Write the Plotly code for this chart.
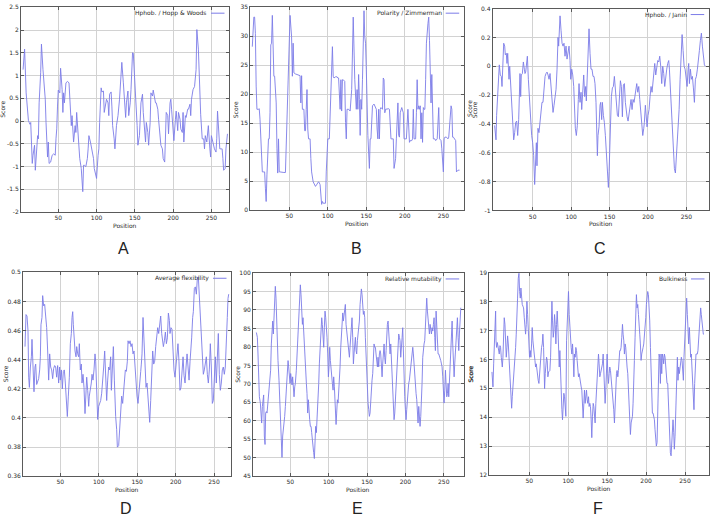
import plotly.graph_objects as go

W, H = 710, 519

# ---------------- DATA ----------------
pos_a = [4,6,8,10,11,12,13,14,16,17,19,20,21,23,24,25,27,28,30,32,33,34,35,36,37,38,40,42,44,46,47,48,49,50,52,53,55,56,57,58,60,62,64,65,66,67,68,69,70,72,73,74,76,77,78,80,82,83,84,86,88,89,90,92,94,96,97,100,102,103,104,106,107,109,110,112,113,115,116,117,119,120,121,123,124,126,128,130,131,133,135,137,138,139,141,142,144,145,147,148,150,151,153,154,156,158,160,161,163,164,165,167,168,170,171,173,174,175,177,178,180,181,183,184,186,187,189,190,191,193,194,196,197,198,200,201,203,204,206,207,209,210,212,213,214,216,217,219,220,222,223,224,226,228,230,231,233,235,236,238,240,241,242,244,245,246,248,249,250,252,254,256,257,258,260,261,263,264,265,266,268,269,271]
score_a = [1.13,1.58,0.62,0.04,0.01,-0.03,-0.07,-0.03,-0.93,-0.75,-0.53,-1.08,-0.75,-0.32,-0.39,0.40,1.06,1.69,1.13,0.76,0.48,-0.03,-0.53,-0.79,-0.46,-0.93,-0.90,-0.75,-0.72,-0.75,-0.39,-0.17,0.33,0.68,0.62,1.16,0.69,0.19,0.62,0.40,0.84,0.87,0.84,0.48,0.12,-0.10,0.12,-0.21,-0.46,-0.10,-0.25,0.19,-0.32,-0.75,-0.82,-1.04,-1.55,-0.97,-0.97,-1.00,-0.82,-0.61,-0.32,-0.46,-0.61,-0.82,-1.04,-1.26,-0.75,-0.61,-0.03,0.73,0.64,0.66,0.19,0.44,0.48,0.40,0.12,0.59,0.64,0.33,-0.10,-0.39,-0.61,-0.10,0.12,0.48,0.69,1.29,0.84,0.40,0.08,0.40,0.66,0.12,0.40,0.69,1.50,1.49,0.95,0.48,-0.10,-0.53,-0.32,0.40,0.59,0.19,-0.25,-0.46,-0.03,-0.25,-0.53,-0.03,0.62,0.55,0.68,0.55,0.40,0.40,0.26,0.04,-0.32,-0.53,-0.61,-0.82,-0.90,-0.53,0.19,0.12,-0.28,0.40,0.48,0.26,-0.10,-0.43,0.04,0.22,-0.21,0.19,0.04,-0.17,-0.25,0.19,-0.46,0.12,0.08,0.26,0.26,0.37,0.12,0.48,0.69,0.76,1.13,2.01,1.58,0.55,0.15,-0.39,-0.39,-0.61,-0.32,-0.46,-0.14,-0.10,-0.61,-0.79,-0.32,-0.46,-0.61,-0.68,-0.39,0.22,-0.32,-0.61,-0.61,-0.61,-0.82,-1.08,-1.04,-0.61,-0.28]

pos_b = [2,4,5,6,7,8,10,11,12,14,15,17,18,19,20,21,22,23,24,25,26,27,28,29,30,31,33,34,35,36,37,38,41,43,45,46,47,48,49,50,51,53,54,55,56,58,60,62,64,65,66,67,68,69,70,71,72,73,74,75,76,77,78,79,81,83,84,86,88,89,90,92,93,94,96,97,98,99,100,102,103,105,106,107,108,110,112,113,114,116,117,118,119,120,121,122,123,124,125,127,129,131,133,134,135,137,138,139,140,141,142,143,144,145,146,147,148,149,150,151,152,154,155,156,157,158,160,162,163,164,165,166,167,168,169,171,172,173,174,175,177,179,180,182,183,185,186,188,189,190,191,192,193,194,195,196,198,199,200,201,202,204,205,206,207,209,210,211,212,214,215,216,217,218,219,220,221,222,223,224,225,226,227,228,230,231,232,233,234,235,236,237,239,240,242,243,244,245,246,247,248,249,250,251,252,254,256,257,259,260,261,262,263,265,266,267,269,271]
score_b = [28.2,33.3,33.3,30.5,21.4,17.4,17.4,17.5,15.7,8.3,6.6,6.6,6.6,3.8,1.5,6.1,10.6,12.3,12.3,16.8,28.5,28.8,33.6,28.8,23.1,23.1,18.5,10.6,6.4,12.3,6.6,6.6,6.5,6.5,6.5,11.7,12.9,18.5,27.1,28.2,33.6,29.9,23.1,28.8,23.7,23.5,23.4,23.4,23.2,18.5,23.2,17.4,17.4,17.4,13.7,13.7,17.4,20.8,14.0,12.3,12.3,12.3,8.9,6.6,4.9,4.4,4.1,4.5,4.9,4.7,4.4,1.0,1.5,1.2,1.2,1.2,6.6,10.0,12.3,12.3,16.8,23.1,28.2,23.1,22.8,23.0,23.0,22.8,22.8,17.4,22.5,17.1,22.5,22.5,22.2,22.2,15.1,12.3,17.4,17.4,17.1,20.8,33.3,27.6,22.5,17.4,20.8,17.4,23.4,19.1,12.9,19.1,17.4,22.5,32.2,34.4,29.9,28.8,24.2,16.8,12.9,7.2,12.3,12.3,16.8,18.0,18.3,17.4,17.4,14.0,12.3,17.4,12.3,17.4,17.7,17.4,22.8,22.5,16.8,17.4,17.5,17.5,17.4,12.3,12.3,12.3,7.2,8.9,12.3,17.4,18.5,12.9,12.6,16.8,17.4,17.7,16.8,12.3,12.3,12.3,12.3,17.4,12.3,11.7,12.0,12.0,12.3,17.4,12.3,12.3,16.8,22.5,17.4,18.0,17.4,18.0,12.3,16.8,11.7,17.7,17.4,17.4,22.5,28.8,32.2,33.3,29.3,24.2,18.5,23.4,17.4,12.3,12.3,12.0,12.3,17.4,17.7,12.3,12.0,12.0,10.6,7.2,6.6,12.3,12.6,12.6,12.3,12.6,17.4,18.0,17.4,12.6,12.6,12.3,12.0,6.6,6.9,6.9]

pos_c = [0.5,2.3,3.1,4.4,5.7,6.6,7.9,9.2,10.1,11.4,12.3,13.6,14.4,15.7,16.6,17.5,18.3,19.2,20.1,21.4,22.7,24,25.3,26.6,27.9,29.2,30.5,31.8,32.6,33.5,34.4,35.2,36.6,37.9,39.2,40,40.9,42.2,43.1,44.4,45.2,46.5,47.4,48.7,50,51.3,52.6,53.9,54.8,55.6,56.9,58.2,59.5,60.8,62.1,63.4,64.8,66.1,67.4,68.7,70,71.3,72.6,73.9,75.2,76.5,77.8,79.1,80.4,81.7,83,83.8,84.7,85.6,86.9,88.2,89.5,90.8,92.1,93.4,94.7,96,97.3,98.6,99.5,100.8,102.1,103.4,104.2,105.5,106.8,108.1,109.4,110.3,111.6,112.9,113.8,115.1,116.4,117.7,119,119.8,121.1,122.5,123.3,124.6,125.9,127.2,128.5,129.8,131.1,132.4,133.3,134.2,135,136.3,137.6,138.5,139.8,140.7,142,143.3,144.6,145.9,147.2,148.5,149.4,150.2,151.1,152.4,153.7,155,156.3,157.6,158.9,160.2,161.5,162.8,164.1,165.4,166.7,168,169.3,170.6,171.5,172.8,174.1,175.4,176.7,178,179.3,180.6,181.9,183.2,184.5,185.4,186.7,188,189.3,190.6,191.9,193.2,194.5,195.3,196.6,197.5,198.8,200.1,201.4,202.7,204,205.3,206.6,207.9,208.8,210.1,211.4,212.7,214,215.3,216.6,217.9,219.2,220.5,221.8,223.1,224.4,225.7,227,227.9,229.2,230.5,231.8,233.1,234.4,235.7,237,238.3,239.6,240.5,241.8,243.1,244.4,245.7,247,248.3,249.6,250.9,252.2,253,253.9,255.2,256.5,257.8,259.1,260.4,261.7,263,264.3,265.6,266.9,268.2,269.5,270.8,272.1,273.4,274.7]
score_c = [-0.41,-0.51,-0.34,-0.18,-0.02,0.01,-0.06,-0.07,-0.14,0.02,0.16,0.14,0.08,0.09,0.02,0.09,-0.07,-0.09,0.00,-0.14,-0.25,-0.43,-0.51,-0.46,-0.39,-0.38,-0.48,-0.37,-0.14,-0.05,-0.21,-0.06,-0.05,0.03,-0.02,-0.05,-0.04,0.02,0.07,-0.09,-0.18,-0.27,-0.39,-0.48,-0.53,-0.62,-0.82,-0.57,-0.53,-0.69,-0.43,-0.46,-0.39,-0.30,-0.25,-0.25,-0.14,-0.07,-0.05,-0.04,-0.06,-0.09,-0.05,-0.16,-0.27,-0.32,-0.27,-0.21,-0.16,-0.02,0.20,0.14,0.27,0.35,0.25,0.16,0.14,0.16,0.07,0.14,0.05,0.10,0.14,0.04,-0.09,-0.02,-0.06,-0.14,-0.30,-0.43,-0.48,-0.41,-0.23,-0.12,-0.25,-0.18,-0.30,-0.14,-0.06,-0.21,-0.14,-0.24,-0.02,0.09,0.26,0.09,-0.02,-0.02,-0.07,-0.07,-0.12,-0.25,-0.48,-0.62,-0.48,-0.42,-0.27,-0.25,-0.37,-0.25,-0.34,-0.39,-0.48,-0.59,-0.78,-0.84,-0.73,-0.57,-0.41,-0.21,-0.15,-0.14,-0.07,-0.15,-0.25,-0.34,-0.35,-0.21,-0.10,-0.14,-0.35,-0.13,-0.12,-0.25,-0.30,-0.35,-0.38,-0.32,-0.25,-0.23,-0.30,-0.23,-0.25,-0.21,-0.16,-0.12,-0.18,-0.14,-0.23,-0.30,-0.37,-0.48,-0.43,-0.39,-0.27,-0.37,-0.42,-0.34,-0.30,-0.21,-0.14,-0.18,-0.12,-0.02,0.02,-0.06,0.02,0.04,0.03,0.07,0.00,-0.12,0.00,-0.05,-0.14,-0.06,-0.02,0.02,0.04,-0.02,-0.16,-0.23,-0.43,-0.59,-0.71,-0.74,-0.64,-0.48,-0.41,-0.30,-0.09,0.11,0.22,0.11,0.00,-0.02,-0.09,-0.14,-0.02,0.02,-0.12,-0.02,-0.09,-0.07,-0.15,-0.25,-0.09,-0.07,-0.02,0.07,0.11,0.18,0.23,0.14,0.09,0.01,0.00]

pos_d = [4.0,5.3,6.6,7.9,8.8,9.7,11.0,12.3,13.1,14.0,14.9,15.7,17.0,17.9,19.2,20.5,21.8,23.1,24.0,24.8,26.1,27.0,28.3,29.6,30.9,32.2,33.5,34.8,36.1,37.4,38.7,40.0,41.3,42.6,43.9,45.2,46.5,47.8,49.1,50.0,51.3,52.6,53.9,55.2,56.5,57.8,59.1,60.4,61.7,63.0,64.3,65.2,66.1,66.9,67.8,69.1,70.4,71.3,72.6,73.9,74.7,76.0,77.3,78.2,79.5,80.8,82.1,83.0,84.3,85.6,86.9,87.7,89.0,90.3,91.2,92.5,93.8,95.1,96.0,97.3,98.6,99.9,101.2,102.5,103.8,105.1,106.4,107.7,109.0,110.3,111.6,112.9,114.2,115.5,116.4,117.7,119.0,120.3,121.1,122.0,123.3,124.2,125.9,127.2,128.5,129.8,131.1,132.4,133.3,134.6,135.9,137.2,138.1,139.4,140.7,142.0,143.3,144.6,145.9,147.2,148.5,149.8,151.1,152.4,153.3,154.6,155.4,156.3,157.6,158.9,160.2,161.5,162.8,163.7,165.0,166.3,167.6,168.9,170.2,171.5,172.8,174.1,175.4,176.7,178.0,179.3,180.6,181.9,183.2,184.1,185.4,186.7,188.0,189.3,190.6,191.9,192.7,194.0,195.3,196.6,197.9,199.2,200.5,201.8,203.1,204.4,205.7,207.0,208.4,209.7,211.0,212.3,213.6,214.9,216.2,217.5,218.8,219.6,220.9,222.2,223.1,224.4,225.7,227.0,228.3,229.6,230.9,232.2,233.5,234.8,236.1,237.4,238.7,240.0,241.3,242.6,243.9,245.2,246.5,247.8,249.1,250.4,251.7,253.0,254.3,255.6,256.9,258.2,259.5,260.8,262.1,263.4,264.7,266.0,267.3,268.2,269.1]
score_d = [0.449,0.471,0.470,0.460,0.428,0.421,0.435,0.442,0.454,0.444,0.428,0.418,0.435,0.437,0.423,0.426,0.427,0.433,0.442,0.464,0.469,0.484,0.477,0.478,0.469,0.462,0.446,0.426,0.444,0.435,0.433,0.427,0.434,0.436,0.435,0.428,0.436,0.424,0.435,0.426,0.433,0.420,0.432,0.433,0.424,0.410,0.401,0.415,0.428,0.451,0.458,0.469,0.473,0.464,0.453,0.446,0.442,0.449,0.444,0.442,0.451,0.433,0.437,0.424,0.430,0.421,0.403,0.412,0.428,0.419,0.408,0.415,0.419,0.424,0.430,0.426,0.433,0.444,0.439,0.419,0.399,0.408,0.410,0.412,0.417,0.424,0.435,0.446,0.430,0.412,0.426,0.435,0.433,0.442,0.419,0.442,0.449,0.426,0.403,0.401,0.392,0.380,0.381,0.394,0.401,0.415,0.410,0.419,0.430,0.433,0.432,0.439,0.453,0.451,0.453,0.449,0.451,0.444,0.446,0.433,0.424,0.415,0.410,0.421,0.426,0.432,0.437,0.444,0.469,0.451,0.433,0.421,0.424,0.417,0.408,0.397,0.412,0.437,0.446,0.437,0.439,0.449,0.455,0.462,0.458,0.464,0.470,0.458,0.451,0.449,0.453,0.459,0.451,0.455,0.472,0.467,0.458,0.462,0.461,0.442,0.433,0.428,0.435,0.444,0.451,0.439,0.419,0.421,0.435,0.442,0.429,0.424,0.435,0.444,0.435,0.426,0.439,0.444,0.455,0.469,0.473,0.489,0.490,0.485,0.496,0.497,0.482,0.467,0.451,0.437,0.430,0.433,0.439,0.442,0.430,0.424,0.433,0.451,0.435,0.410,0.412,0.430,0.442,0.424,0.437,0.458,0.430,0.419,0.424,0.433,0.435,0.430,0.435,0.460,0.469,0.482,0.485]

pos_e = [5.7,7.0,7.8,8.7,9.6,10.9,11.7,12.6,13.5,14.3,15.2,16.1,17.0,17.8,18.7,19.6,20.9,22.2,23.5,24.3,25.2,26.1,27.0,27.8,28.7,29.6,30.4,31.3,32.2,33.0,33.9,35.2,36.5,37.4,38.3,39.1,40.0,40.9,41.7,42.6,43.5,44.3,45.2,46.1,47.0,47.8,48.7,49.6,50.4,51.3,52.2,53.0,53.9,54.8,55.7,56.5,57.8,58.7,59.6,60.4,61.3,62.2,63.0,63.9,64.8,65.7,66.5,67.4,68.3,69.6,70.9,71.7,72.6,73.5,74.3,75.2,76.1,77.0,77.8,78.7,79.6,80.4,81.3,82.2,83.0,83.9,84.8,86.1,87.0,87.8,89.1,90.0,90.9,91.7,92.6,93.5,94.3,95.2,96.1,97.0,97.8,98.7,99.6,100.4,101.3,102.2,103.0,103.9,104.8,105.7,106.5,107.4,108.7,109.6,110.4,111.3,112.2,113.0,113.9,114.8,115.7,116.5,117.4,118.3,119.1,120.0,120.9,121.7,122.6,123.5,124.3,125.2,126.1,127.0,127.8,128.7,129.6,130.4,131.3,132.2,133.0,133.9,134.8,135.7,136.5,137.4,138.3,139.1,140.0,140.9,141.7,142.6,143.5,144.3,145.2,146.1,147.0,147.8,148.7,149.6,150.4,151.3,152.2,153.0,153.9,154.8,155.7,156.5,157.4,158.3,159.1,160.0,160.9,161.7,162.6,163.5,164.3,165.2,166.1,167.0,167.8,168.7,169.6,170.4,171.3,172.2,173.0,173.9,174.8,175.7,176.5,177.4,178.3,179.1,180.0,180.9,181.7,182.6,183.5,184.3,185.2,186.1,187.0,187.8,188.7,189.6,190.4,191.3,192.2,193.0,193.9,194.8,195.7,196.5,197.4,198.3,199.1,200.0,200.9,201.7,202.6,203.5,204.3,205.2,206.1,207.0,207.8,208.7,209.6,210.4,211.3,212.2,213.0,213.9,214.8,215.7,216.5,217.4,218.3,219.1,220.0,220.9,221.7,222.6,223.5,224.3,225.2,226.1,227.0,227.8,228.7,229.6,230.4,231.3,232.2,233.0,233.9,234.8,235.7,236.5,237.4,238.3,239.1,240.0,240.9,241.7,242.6,243.5,244.3,245.2,246.1,247.0,247.8,248.7,249.6,250.4,251.3,252.2,253.0,253.9,254.8,255.7,256.5,257.4,258.3,259.1,260.0,260.9,261.7,262.6,263.5,264.3,265.2,266.1,267.0,267.8,268.7,269.6,270.4,271.3,272.2]
score_e = [83.9,82.6,78.1,70.1,66.5,64.8,62.1,59.4,63.9,65.7,67.0,55.9,53.6,62.1,62.5,62.1,64.8,67.4,70.1,73.7,80.8,85.2,87.0,83.5,90.6,94.1,96.4,93.2,86.1,80.8,76.3,71.0,64.8,60.3,55.0,50.1,55.9,57.7,57.7,61.2,63.9,66.5,71.0,73.7,76.3,74.6,71.0,70.1,72.8,71.0,69.7,71.9,69.2,66.5,69.2,70.1,73.7,78.1,81.7,86.1,90.6,93.2,96.8,94.1,89.7,86.1,87.9,83.5,79.0,74.6,70.1,67.4,62.1,65.7,62.1,60.3,58.5,58.5,56.8,54.1,53.2,51.4,49.8,54.1,58.5,56.8,60.3,64.8,70.1,75.4,79.9,84.3,87.9,86.1,82.6,79.9,85.2,89.7,87.9,86.1,82.6,78.1,71.9,74.6,79.9,76.3,73.7,70.1,70.1,68.3,71.9,69.2,63.9,59.0,62.1,65.7,64.8,67.4,69.2,74.6,79.9,83.5,86.1,89.2,87.0,88.8,90.6,91.5,86.1,84.3,82.6,79.9,77.2,77.2,79.9,82.6,86.1,87.9,82.6,75.4,78.1,79.9,82.6,79.0,78.1,81.7,83.5,86.1,87.0,91.5,95.0,95.7,94.1,90.6,88.8,89.7,87.9,82.6,77.2,70.1,66.5,64.8,63.0,61.2,62.1,66.5,68.3,71.0,72.8,79.0,80.8,79.9,79.9,78.1,76.3,74.6,77.2,74.6,78.1,79.0,78.1,74.6,71.9,75.4,78.1,80.8,77.2,75.4,79.0,83.5,86.1,87.0,84.3,79.0,78.1,80.8,77.2,70.1,66.5,63.0,60.3,62.1,66.5,70.1,73.7,76.3,80.8,83.5,82.6,81.7,77.2,81.7,82.6,85.2,77.2,70.1,66.5,63.0,60.3,63.0,65.7,69.2,70.1,71.0,72.8,75.4,75.4,77.2,79.9,78.1,74.6,71.9,70.1,67.4,65.7,62.1,59.4,63.9,61.2,58.5,61.2,64.8,70.1,77.2,80.8,80.8,81.7,87.0,89.7,93.2,89.7,87.0,86.1,83.5,86.1,85.2,83.5,85.2,84.3,86.1,87.9,82.6,79.0,89.7,84.3,79.9,78.1,78.1,77.2,76.3,76.3,75.4,74.6,71.9,67.4,64.8,68.3,73.7,70.1,66.5,67.4,70.1,66.5,70.1,73.7,79.0,84.3,87.0,80.8,74.6,71.9,75.4,78.1,81.7,86.1,87.9,82.6,79.0,83.5,87.0,90.6]

pos_f = [2.1,3.4,4.3,5.1,6.0,6.8,7.3,8.1,9.0,9.8,10.7,11.5,12.4,13.2,14.1,15.4,16.2,17.1,17.9,18.8,19.7,20.5,21.4,22.2,23.1,23.9,24.8,25.6,26.5,27.4,28.2,29.1,29.9,30.8,31.6,32.5,33.3,34.2,35.0,35.9,36.8,37.6,38.5,39.3,40.2,41.0,41.9,42.7,43.6,44.4,45.3,46.2,47.0,47.9,48.7,49.6,50.4,51.3,52.1,53.0,53.8,54.7,55.6,56.4,57.3,58.1,59.0,59.8,60.7,61.5,62.4,63.2,64.1,65.0,65.8,66.7,67.5,68.4,69.2,69.7,70.5,71.4,72.2,73.1,73.9,74.8,75.6,76.5,77.4,78.2,79.1,79.9,80.8,81.6,82.5,83.3,84.2,85.0,85.9,86.8,87.6,88.5,89.3,90.2,91.0,91.9,92.7,93.6,94.4,95.3,96.2,97.0,97.9,98.7,99.6,100.4,101.3,102.1,103.0,103.8,104.7,105.6,106.4,107.3,108.1,109.0,109.8,110.7,111.5,112.4,113.2,114.1,115.0,115.8,116.7,117.5,118.4,119.2,120.1,120.9,121.8,122.6,123.5,124.4,125.2,126.1,126.9,127.8,128.6,129.5,130.3,131.2,132.1,132.9,133.8,134.6,135.5,136.3,137.2,138.0,138.9,139.7,140.6,141.5,142.3,143.2,144.0,144.9,145.7,146.6,147.4,148.3,149.1,150.0,150.9,151.7,152.6,153.4,154.3,155.1,156.0,156.8,157.7,158.5,159.4,160.3,161.1,162.0,162.8,163.7,164.5,165.4,166.2,167.1,167.9,168.8,169.7,170.5,171.4,172.2,173.1,173.9,174.8,175.6,176.5,177.4,178.2,179.1,179.9,180.8,181.6,182.5,183.3,184.2,185.0,185.9,186.8,187.6,188.5,189.3,190.2,191.0,191.9,192.7,193.6,194.4,195.3,196.2,197.0,197.9,198.7,199.6,200.4,201.3,202.1,203.0,203.8,204.7,205.6,206.4,207.3,208.1,209.0,209.8,210.7,211.5,212.4,213.2,214.1,215.0,215.8,216.7,217.5,218.4,219.2,220.1,220.9,221.8,222.6,223.5,224.4,225.2,226.1,226.9,227.8,228.6,229.5,230.3,231.2,232.1,232.9,233.8,234.6,235.5,236.3,237.2,238.0,238.9,239.7,240.2,241.0,241.9,242.7,243.6,244.4,245.3,246.2,247.0,247.9,248.7,249.6,250.4,251.3,252.1,253.0,253.8,254.7,255.6,256.4,257.3,258.1,259.0,259.8,260.7,261.5,262.4,263.2,264.1,264.9,265.8,266.6,267.5,268.4,269.2,270.1,270.9,271.8,272.6,273.5,274.4]
score_f = [15.57,15.05,15.85,16.59,17.11,17.68,16.65,16.42,16.59,16.42,16.31,16.19,16.48,16.42,16.08,15.74,16.08,16.99,17.45,17.22,16.42,16.08,16.42,16.82,16.54,16.08,15.51,14.94,14.48,14.31,14.71,15.05,15.17,15.51,15.97,16.42,16.88,17.34,18.13,18.82,18.99,18.36,18.13,18.48,18.13,17.91,17.85,17.79,17.45,17.22,16.88,17.22,18.02,17.56,16.88,16.65,16.08,16.31,16.08,16.54,17.11,16.65,16.19,16.19,15.97,15.74,15.85,15.62,15.51,15.28,15.17,15.51,15.97,16.19,16.42,16.54,16.88,16.42,15.62,14.99,15.51,15.97,16.08,15.97,15.40,15.57,15.62,15.62,16.08,17.34,18.02,17.34,16.77,16.99,17.56,17.22,16.54,17.22,17.68,17.11,16.54,15.74,16.31,15.40,14.60,14.26,13.91,14.48,14.83,14.71,14.14,14.03,16.65,17.45,17.91,18.36,17.56,17.11,16.77,16.42,16.19,16.54,16.08,15.40,16.19,16.08,16.42,16.31,15.97,15.74,15.40,15.51,15.28,15.05,15.05,14.94,14.26,13.97,14.48,14.94,14.48,14.83,14.94,14.60,14.48,14.71,14.37,14.48,14.37,13.91,13.29,14.03,14.48,14.37,14.03,13.80,14.48,14.94,15.28,15.85,16.19,15.85,15.40,15.51,15.62,15.62,15.85,16.19,15.62,14.83,14.48,14.94,15.62,16.19,15.51,15.17,15.51,15.74,15.62,15.40,15.17,14.83,14.48,14.26,13.80,14.48,15.17,15.51,15.62,15.40,15.62,16.19,16.31,16.31,16.42,16.77,17.22,16.88,16.65,16.19,16.54,16.42,15.74,15.74,15.51,14.94,14.26,13.91,13.40,13.80,13.91,14.03,14.48,15.05,15.97,16.77,17.56,18.25,17.79,17.91,17.56,17.34,16.88,16.54,15.97,16.19,16.42,16.42,16.54,16.77,17.11,17.45,17.91,18.13,18.36,18.25,17.91,17.34,16.42,15.40,14.60,14.14,14.14,14.03,13.91,13.57,13.34,13.00,13.12,14.71,15.74,16.19,16.08,15.17,16.19,15.51,16.19,16.08,15.85,16.19,16.08,15.62,15.28,15.17,15.17,14.48,13.57,13.12,12.77,12.66,13.12,13.57,13.91,13.46,12.89,13.34,13.91,14.71,15.62,16.08,15.28,15.74,15.51,15.74,16.08,16.08,15.97,15.62,15.28,16.08,16.65,17.22,17.91,18.13,17.56,17.11,16.54,17.11,16.42,16.08,16.19,15.62,15.17,14.60,14.26,15.17,16.08,16.19,16.19,16.19,16.31,16.77,17.22,17.68,17.79,17.56,17.22,16.99,16.88,16.88]

legend_names = ["Hphob. / Hopp & Woods", "Polarity / Zimmerman", "Hphob. / Janin",
                "Average flexibility", "Relative mutability", "Bulkiness"]
panel_letters = ["A", "B", "C", "D", "E", "F"]
x_tick_vals = [50, 100, 150, 200, 250]
y_ticks = [
    ([-2, -1.5, -1, -0.5, 0, 0.5, 1, 1.5, 2, 2.5], ["-2", "-1.5", "-1", "-0.5", "0", "0.5", "1", "1.5", "2", "2.5"]),
    ([0, 5, 10, 15, 20, 25, 30, 35], ["0", "5", "10", "15", "20", "25", "30", "35"]),
    ([-1, -0.8, -0.6, -0.4, -0.2, 0, 0.2, 0.4], ["-1", "-0.8", "-0.6", "-0.4", "-0.2", "0", "0.2", "0.4"]),
    ([0.36, 0.38, 0.40, 0.42, 0.44, 0.46, 0.48, 0.50], ["0.36", "0.38", "0.4", "0.42", "0.44", "0.46", "0.48", "0.5"]),
    ([45, 50, 55, 60, 65, 70, 75, 80, 85, 90, 95, 100], ["45", "50", "55", "60", "65", "70", "75", "80", "85", "90", "95", "100"]),
    ([12, 13, 14, 15, 16, 17, 18, 19], ["12", "13", "14", "15", "16", "17", "18", "19"]),
]
y_ranges = [[-2, 2.5], [0, 35], [-1, 0.4], [0.36, 0.5], [45, 100], [12, 19]]
x_ranges = [[1.3, 273], [-0.6, 276.4], [-2, 279], [1.4, 272.1], [1.3, 276], [-1.3, 280.8]]

series = [(pos_a, score_a), (pos_b, score_b), (pos_c, score_c),
          (pos_d, score_d), (pos_e, score_e), (pos_f, score_f)]

# ---------------- LAYOUT (pixel geometry of each panel frame) ----------------
frames = [  # left, right, top, bottom in pixels
    (21, 229, 3.3, 211),
    (250.3, 463.7, 3.3, 209),
    (492.7, 708.7, 4.7, 209.3),
    (23, 231, 272, 478.7),
    (253, 463.7, 272.7, 478.7),
    (489.3, 709, 272.7, 477.3),
]
letter_y = [248, 248, 248, 511, 511, 511]
left_score = [True, False, True, True, False, True]
right_score = [True, True, False, True, True, False]

def px(x):
    return x / W

def py(y):
    return 1 - y / H

LINE = "#7c7ce8"
GRID = "#d2d2d2"
FRAME = "#5a5a5a"
TXT = "#2a2a2a"
SMALL = dict(family="DejaVu Sans", size=6, color=TXT)

fig = go.Figure()
annotations = []
shapes = []

for i, ((xs, ys), (l, r, t, b)) in enumerate(zip(series, frames)):
    n = i + 1
    xa = "x" if n == 1 else f"x{n}"
    ya = "y" if n == 1 else f"y{n}"
    fig.add_trace(go.Scatter(x=xs, y=ys, mode="lines", xaxis=xa, yaxis=ya,
                             line=dict(color=LINE, width=0.9), showlegend=False,
                             hoverinfo="skip"))
    common = dict(showgrid=True, gridcolor=GRID, gridwidth=1, showline=True,
                  linecolor=FRAME, linewidth=1, mirror="ticks", ticks="inside",
                  ticklen=3, tickcolor=FRAME, tickfont=SMALL, zeroline=False)
    fig.update_layout(**{
        ("xaxis" if n == 1 else f"xaxis{n}"): dict(
            domain=[px(l), px(r)], range=x_ranges[i], anchor=ya,
            tickvals=x_tick_vals, ticktext=[str(v) for v in x_tick_vals], **common),
        ("yaxis" if n == 1 else f"yaxis{n}"): dict(
            domain=[py(b), py(t)], range=y_ranges[i], anchor=xa,
            tickvals=y_ticks[i][0], ticktext=y_ticks[i][1], **common),
    })
    cx = (l + r) / 2
    cy = (t + b) / 2
    annotations.append(dict(text="Position", x=px(cx), y=py(b + 13.5), xref="paper", yref="paper",
                            showarrow=False, font=SMALL, xanchor="center", yanchor="middle"))
    if left_score[i]:
        annotations.append(dict(text="Score", x=px(l - 18), y=py(cy), xref="paper", yref="paper",
                                showarrow=False, font=SMALL, textangle=-90,
                                xanchor="center", yanchor="middle"))
    if right_score[i]:
        annotations.append(dict(text="Score", x=px(r + 6.5), y=py(cy), xref="paper", yref="paper",
                                showarrow=False, font=SMALL, textangle=-90,
                                xanchor="center", yanchor="middle"))
    annotations.append(dict(text=legend_names[i], x=px(r - 20), y=py(t + 6), xref="paper",
                            yref="paper", showarrow=False, font=SMALL,
                            xanchor="right", yanchor="middle"))
    shapes.append(dict(type="line", xref="paper", yref="paper",
                       x0=px(r - 18), x1=px(r - 4.5), y0=py(t + 6), y1=py(t + 6),
                       line=dict(color=LINE, width=1)))
    annotations.append(dict(text=panel_letters[i], x=px(cx - 1), y=py(letter_y[i]), xref="paper",
                            yref="paper", showarrow=False,
                            font=dict(family="Liberation Sans", size=16, color="#222222"),
                            xanchor="center", yanchor="middle"))

fig.update_layout(width=W, height=H, margin=dict(l=0, r=0, t=0, b=0),
                  paper_bgcolor="white", plot_bgcolor="white",
                  annotations=annotations, shapes=shapes, showlegend=False)

fig.write_html("out.html", config={"displayModeBar": False},
               post_script="document.body.style.margin='0';document.body.style.padding='0';"
                           "document.body.style.overflow='hidden';")
